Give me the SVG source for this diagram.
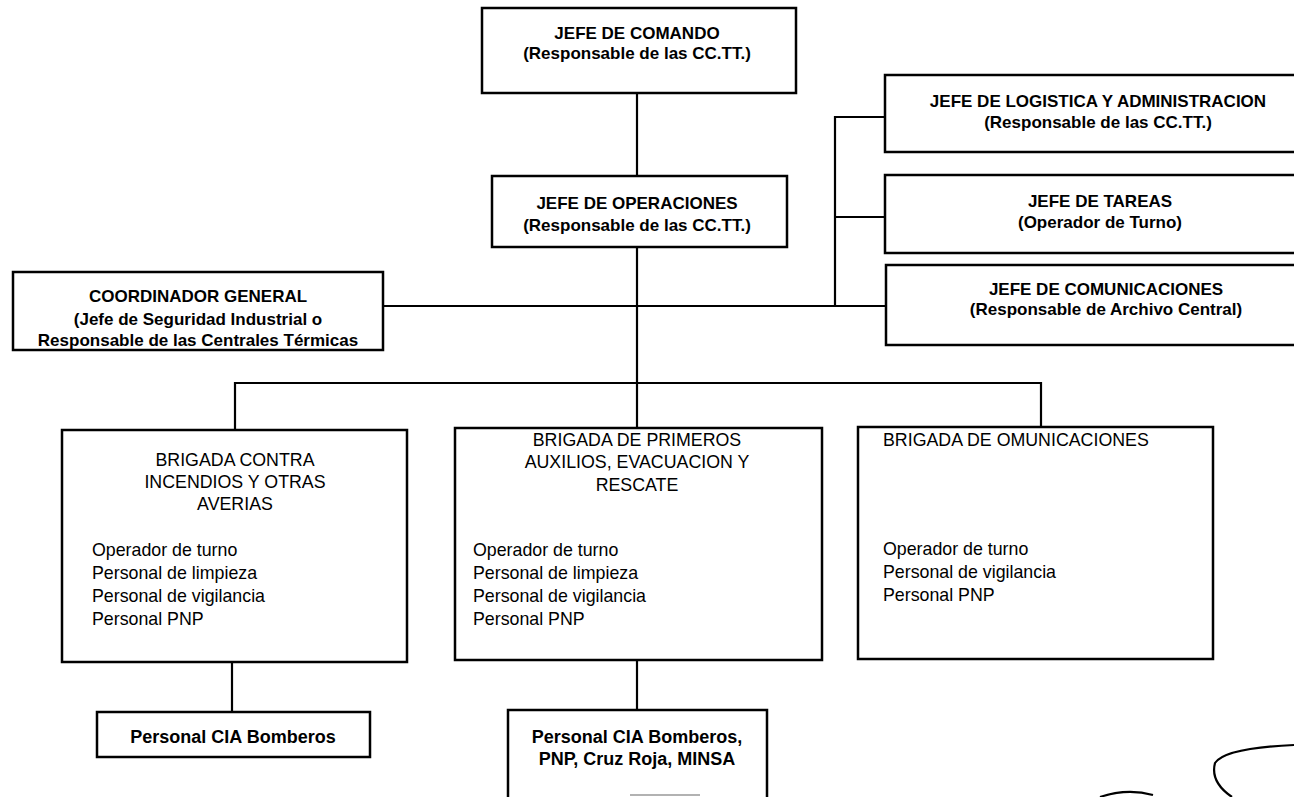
<svg xmlns="http://www.w3.org/2000/svg" width="1294" height="797" viewBox="0 0 1294 797">
<style>
.box{fill:#fff;stroke:#000;stroke-width:2.5}
.ln{stroke:#000;stroke-width:2.2;fill:none}
.b{font-family:"Liberation Sans",Arial,sans-serif;font-weight:bold;font-size:17px;fill:#000;text-anchor:middle}
.b18{font-size:18px}
.r{font-family:"Liberation Sans",Arial,sans-serif;font-size:17.8px;fill:#000}
.rc{text-anchor:middle}
</style>
<rect width="1294" height="797" fill="#fff"/>
<g id="connectors">
<path class="ln" d="M637 93V176"/>
<path class="ln" d="M637 247V428"/>
<path class="ln" d="M383 306H885"/>
<path class="ln" d="M835 306V117H885"/>
<path class="ln" d="M835 217H885"/>
<path class="ln" d="M235 430V383H1041V427"/>
<path class="ln" d="M232 662V712"/>
<path class="ln" d="M637 660V710"/>
</g>
<g id="jefe-comando">
<rect class="box" x="482" y="8" width="314" height="85"/>
<text class="b" x="637" y="39">JEFE DE COMANDO</text>
<text class="b" x="637" y="59">(Responsable de las CC.TT.)</text>
</g>
<g id="jefe-operaciones">
<rect class="box" x="492" y="176" width="295" height="71"/>
<text class="b" x="637" y="209">JEFE DE OPERACIONES</text>
<text class="b" x="637" y="231">(Responsable de las CC.TT.)</text>
</g>
<g id="coordinador">
<rect class="box" x="13" y="272" width="370" height="78"/>
<text class="b" x="198" y="302">COORDINADOR GENERAL</text>
<text class="b" x="198" y="325">(Jefe de Seguridad Industrial o</text>
<text class="b" x="198" y="346">Responsable de las Centrales Térmicas</text>
</g>
<g id="jefe-logistica">
<path class="box" d="M1296 75H885V152H1296"/>
<text class="b" x="1098" y="107">JEFE DE LOGISTICA Y ADMINISTRACION</text>
<text class="b" x="1098" y="128">(Responsable de las CC.TT.)</text>
</g>
<g id="jefe-tareas">
<path class="box" d="M1296 175H885V253H1296"/>
<text class="b" x="1100" y="207">JEFE DE TAREAS</text>
<text class="b" x="1100" y="228">(Operador de Turno)</text>
</g>
<g id="jefe-comunicaciones">
<path class="box" d="M1296 265H886V345H1296"/>
<text class="b" x="1106" y="295">JEFE DE COMUNICACIONES</text>
<text class="b" x="1106" y="315">(Responsable de Archivo Central)</text>
</g>
<g id="brigada-incendios">
<rect class="box" x="62" y="430" width="345" height="232"/>
<text class="r rc" x="235" y="466">BRIGADA CONTRA</text>
<text class="r rc" x="235" y="488">INCENDIOS Y OTRAS</text>
<text class="r rc" x="235" y="510">AVERIAS</text>
<text class="r" x="92" y="556">Operador de turno</text>
<text class="r" x="92" y="579">Personal de limpieza</text>
<text class="r" x="92" y="602">Personal de vigilancia</text>
<text class="r" x="92" y="625">Personal PNP</text>
</g>
<g id="brigada-primeros-auxilios">
<rect class="box" x="455" y="428" width="367" height="232"/>
<text class="r rc" x="637" y="446">BRIGADA DE PRIMEROS</text>
<text class="r rc" x="637" y="468">AUXILIOS, EVACUACION Y</text>
<text class="r rc" x="637" y="491">RESCATE</text>
<text class="r" x="473" y="556">Operador de turno</text>
<text class="r" x="473" y="579">Personal de limpieza</text>
<text class="r" x="473" y="602">Personal de vigilancia</text>
<text class="r" x="473" y="625">Personal PNP</text>
</g>
<g id="brigada-comunicaciones">
<rect class="box" x="858" y="427" width="355" height="232"/>
<text class="r" x="883" y="446">BRIGADA DE OMUNICACIONES</text>
<text class="r" x="883" y="555">Operador de turno</text>
<text class="r" x="883" y="578">Personal de vigilancia</text>
<text class="r" x="883" y="601">Personal PNP</text>
</g>
<g id="bomberos">
<rect class="box" x="97" y="712" width="273" height="45"/>
<text class="b b18" x="233" y="743">Personal CIA Bomberos</text>
</g>
<g id="bomberos-pnp-cruz-roja-minsa">
<path class="box" d="M508 797V710H767V797"/>
<path d="M630 795H700" stroke="#999" stroke-width="1.5"/>
<text class="b b18" x="637" y="743">Personal CIA Bomberos,</text>
<text class="b b18" x="637" y="765">PNP, Cruz Roja, MINSA</text>
</g>
<g id="squiggle">
<path class="ln" d="M1100 797Q1127 788 1153 795"/>
<path class="ln" d="M1294 745Q1225 748 1215 763Q1210 782 1232 797"/>
</g>
</svg>
